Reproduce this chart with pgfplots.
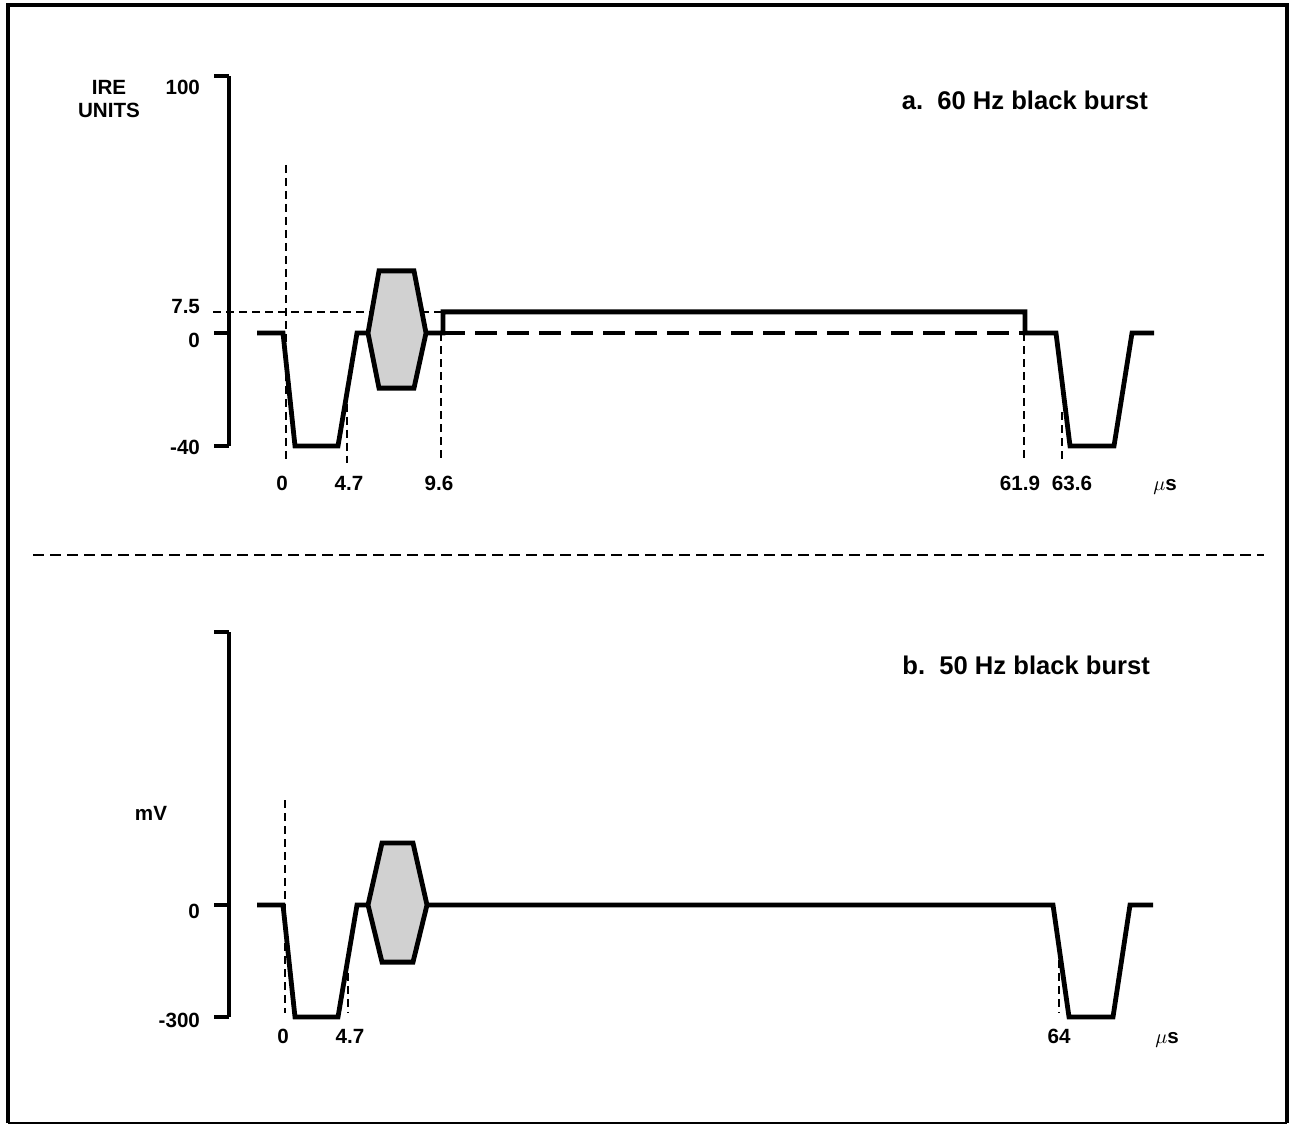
\documentclass[border=0pt]{standalone}
\usepackage{fontspec}
\setmainfont{Liberation Sans}
\usepackage{pgfplots}
\pgfplotsset{compat=1.18}

% label lowered by #1 with no height, so the tick sits on its baseline
\newcommand{\lab}[2]{\raisebox{#1}[0pt][0pt]{#2}}

\pgfplotsset{
  burst/.style={
    scale only axis, clip=false,
    axis y line*=left, axis x line*=bottom,
    x axis line style={draw=none},
    y axis line style={line width=2pt},
    xtick style={draw=none},
    ytick style={line width=2pt, black},
    tick align=outside,
    major tick length=7.5pt,
    xmin=229, xmax=1260, width=515.5pt,
    tick label style={font=\bfseries\fontsize{10.3}{12}\selectfont},
    yticklabel style={anchor=east, xshift=-3.5pt},
    xticklabel style={anchor=base},
  },
  wave/.style={black, line width=2.4pt, line join=miter, no markers},
  thindash/.style={black, line width=1pt, dash pattern=on 4pt off 2.5pt, no markers},
  burstfill/.style={black, line width=2.4pt, line join=miter, fill=black!18, no markers},
}

\begin{document}
\begin{tikzpicture}
\useasboundingbox (0,0) rectangle (647pt,-563pt);

% a. 60 Hz
\begin{axis}[burst,
  at={(114.5pt,-223pt)}, anchor=south west,
  ymin=-40, ymax=91, height=185pt,
  ytick={-40,0,91},
  yticklabels={\lab{-4pt}{-40},\lab{-7pt}{0},\lab{-9pt}{100}},
  extra y ticks={7.5},
  extra y tick labels={\lab{-1pt}{7.5}},
  extra y tick style={tick style={draw=none}},
  xtick={282,349,439,1020,1072,1165},
  xticklabels={0,4.7,9.6,61.9,63.6,$\mu$s},
  xticklabel style={yshift=-14.5pt},
]
\addplot[thindash] coordinates {(286,59.5) (286,-46)};
\addplot[thindash] coordinates {(347,-25) (347,-46)};
\addplot[thindash] coordinates {(441,0) (441,-46)};
\addplot[thindash] coordinates {(1024,0) (1024,-46)};
\addplot[thindash] coordinates {(1062,-28) (1062,-46)};
\addplot[thindash] coordinates {(213,7.5) (443,7.5)};
\addplot[black, line width=2.4pt, dash pattern=on 11pt off 5pt, no markers]
  coordinates {(443,0) (1025,0)};
\addplot[wave] coordinates {(257,0) (283,0) (295,-40) (338,-40) (357,0) (368,0)};
\addplot[burstfill] coordinates {(368,0) (379,22) (414,22) (426,0) (414,-19.5) (379,-19.5)} -- cycle;
\addplot[wave] coordinates {(426,0) (443,0) (443,7.5) (1025,7.5) (1025,0) (1056,0)
  (1070,-40) (1114,-40) (1132,0) (1154,0)};
\node[align=center, font=\bfseries\fontsize{10.3}{11.5}\selectfont] at (axis cs:109,82.9) {IRE\\UNITS};
\node[anchor=base east, font=\bfseries\fontsize{12.8}{15}\selectfont] at (axis cs:1155,79) {a.\ \ 60 Hz black burst};
\end{axis}

% b. 50 Hz
\begin{axis}[burst,
  at={(114.5pt,-508.5pt)}, anchor=south west,
  ymin=-300, ymax=731, height=192.5pt,
  ytick={-300,0,731},
  yticklabels={\lab{-5pt}{-300},\lab{-7pt}{0},{}},
  xtick={283,350,1059,1167},
  xticklabels={0,4.7,64,$\mu$s},
  xticklabel style={yshift=-5.5pt},
]
\addplot[thindash] coordinates {(285,281) (285,-290)};
\addplot[thindash] coordinates {(348,-147) (348,-290)};
\addplot[thindash] coordinates {(1059,-147) (1059,-290)};
\addplot[wave] coordinates {(257,0) (283,0) (295,-300) (338,-300) (357,0) (368,0)};
\addplot[burstfill] coordinates {(368,0) (382,166) (413,166) (427,0) (413,-153) (382,-153)} -- cycle;
\addplot[wave] coordinates {(427,0) (1053,0) (1069,-300) (1113,-300) (1130,0) (1153,0)};
\node[font=\bfseries\fontsize{10.3}{12}\selectfont] at (axis cs:151,244) {mV};
\node[anchor=base east, font=\bfseries\fontsize{12.8}{15}\selectfont] at (axis cs:1157,616) {b.\ \ 50 Hz black burst};
\end{axis}

% frame and separator
\draw[line width=2pt] (4pt,-561.5pt) -- (4pt,-2.5pt) -- (643.5pt,-2.5pt) -- (643.5pt,-561.5pt);
\draw[line width=1pt] (4pt,-561.5pt) -- (643.5pt,-561.5pt);
\draw[line width=1.2pt, dash pattern=on 5.5pt off 3pt] (16.5pt,-277.5pt) -- (632pt,-277.5pt);
\end{tikzpicture}
\end{document}
